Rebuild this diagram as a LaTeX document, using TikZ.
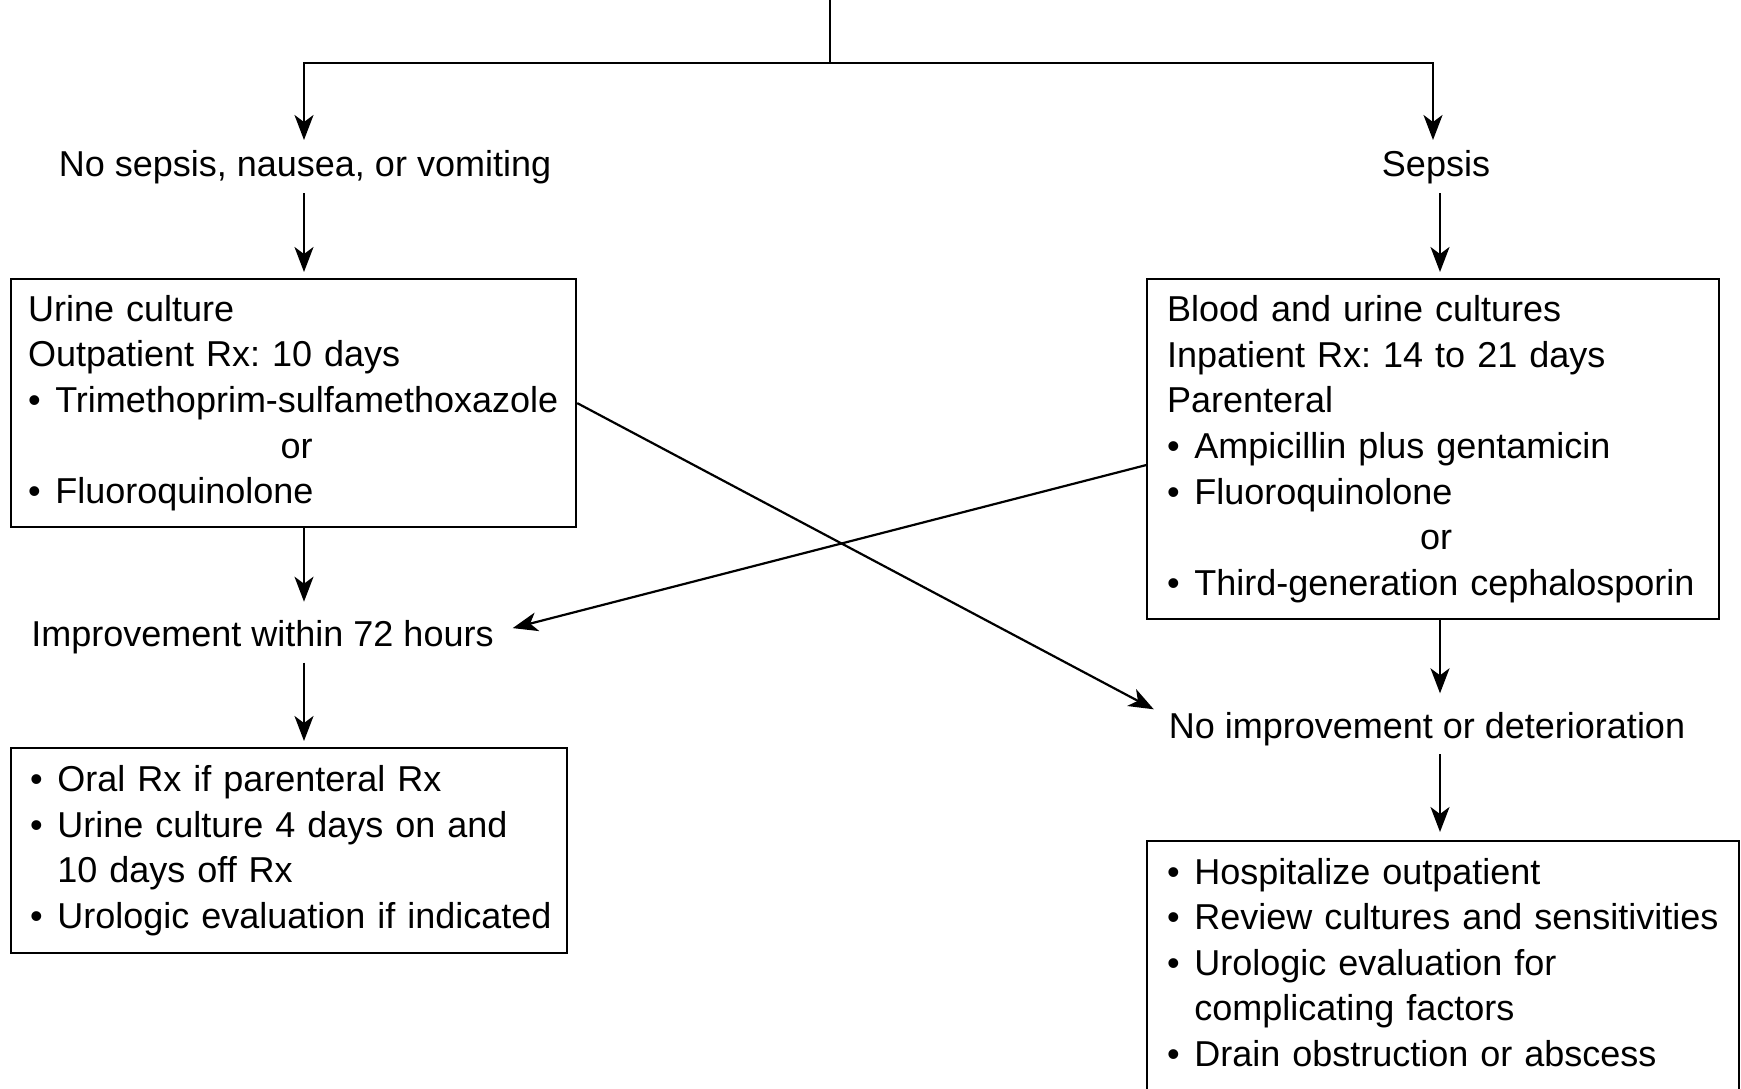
\documentclass[tikz,border=0pt]{standalone}
\usepackage{fontspec}
\setmainfont{Liberation Sans}
\usetikzlibrary{arrows.meta}
\frenchspacing
\newcommand\bl{\makebox[13.6pt][l]{•}}
\newcommand\ind{\hspace*{13.6pt}}
\begin{document}
\begin{tikzpicture}[x=0.5pt,y=-0.5pt,line width=1.1pt,
  every node/.style={font=\fontsize{18}{22.8}\selectfont, text=black},
  arr/.style={-{Stealth[length=12.5pt,width=9.5pt,inset=3.5pt]}},
  box/.style={draw, rectangle, align=left, inner ysep=0pt, anchor=north west},
  lblA/.style={inner xsep=4pt, inner ysep=2pt, text height=15.45pt, text depth=6.05pt, anchor=base},
  lblB/.style={inner xsep=4pt, inner ysep=2pt, text height=19.8pt, text depth=5.5pt, anchor=base}]
\useasboundingbox (0,0) rectangle (1741,1088);

\coordinate (top) at (830,0);
\coordinate (j) at (830,63);
\coordinate (jl) at (304,63);
\coordinate (jr) at (1433,63);
\coordinate (colR) at (1440,0);

\node[lblA] (nosep) at (305,176) {No sepsis, nausea, or vomiting};
\node[lblA] (sepsis) at (1436,176) {Sepsis};

\node[box, minimum width=282.5pt, minimum height=124pt, inner xsep=8.5pt, text width=265.5pt] (lbox1) at (10,278) {%
Urine culture\\
Outpatient Rx: 10 days\\
\bl\mbox{Trimethoprim-sulfamethoxazole}\\
\makebox[\hsize]{\hspace{3pt}or}\\
\bl Fluoroquinolone};

\node[box, minimum width=286pt, minimum height=170pt, inner xsep=10pt, text width=266pt] (rbox1) at (1146,278) {%
Blood and urine cultures\\
Inpatient Rx: 14 to 21 days\\
Parenteral\\
\bl\mbox{Ampicillin plus gentamicin}\\
\bl Fluoroquinolone\\
\makebox[\hsize]{\hspace{3pt}or}\\
\bl\mbox{Third-generation cephalosporin}};

\node[lblB] (impr) at (262.5,646.4) {Improvement within 72 hours};
\node[lblB] (noimp) at (1427,738) {No improvement or deterioration};

\node[box, minimum width=278pt, minimum height=102.5pt, inner xsep=9.5pt, text width=259pt] (lbox2) at (10,747) {%
\bl\mbox{Oral Rx if parenteral Rx}\\
\bl\mbox{Urine culture 4 days on and}\\
\ind\mbox{10 days off Rx}\\
\bl\mbox{Urologic evaluation if indicated}};

\node[box, minimum width=296pt, minimum height=127pt, inner xsep=10pt, text width=276pt, text depth=97pt] (rbox2) at (1146,840) {%
\bl\mbox{Hospitalize outpatient}\\
\bl\mbox{Review cultures and sensitivities}\\
\bl\mbox{Urologic evaluation for}\\
\ind\mbox{complicating factors}\\
\bl\mbox{Drain obstruction or abscess}};

\draw (top) -- (j);
\draw[arr] (j) -| (jl |- nosep.north);
\draw[arr] (j) -| (jr |- sepsis.north);
\draw[arr, shorten >=3pt] (jl |- nosep.south) -- (jl |- lbox1.north);
\draw[arr, shorten >=3pt] (colR |- sepsis.south) -- (colR |- rbox1.north);
\draw[arr] (jl |- lbox1.south) -- (jl |- impr.north);
\draw[arr, shorten >=3pt] (jl |- impr.south) -- (jl |- lbox2.north);
\draw[arr] (colR |- rbox1.south) -- (colR |- noimp.north);
\draw[arr, shorten >=4pt] (colR |- noimp.south) -- (colR |- rbox2.north);
\draw[arr] (lbox1.east) -- ([xshift=-3pt,yshift=-8pt]noimp.north west);
\draw[arr] ([yshift=-8pt]rbox1.west) -- ([xshift=5pt,yshift=2pt]impr.east);
\end{tikzpicture}
\end{document}
